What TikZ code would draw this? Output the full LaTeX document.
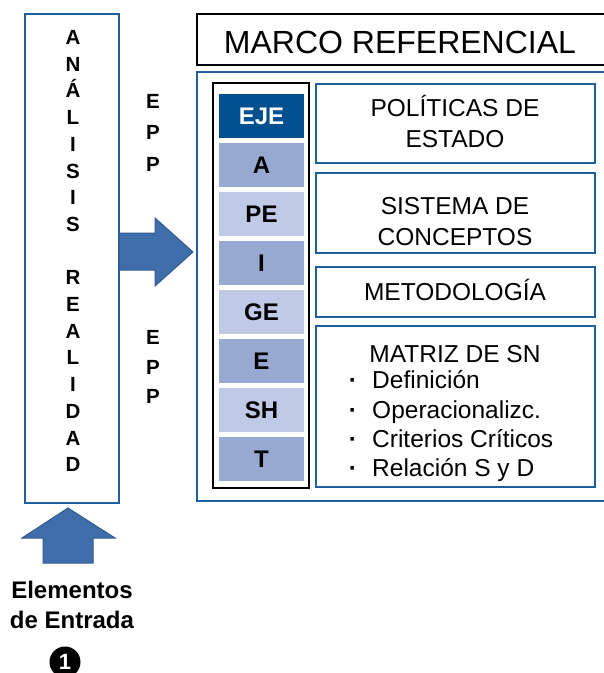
\documentclass[tikz,border=0pt]{standalone}
\usepackage{fontspec}
\setmainfont{Liberation Sans}
\definecolor{azul}{HTML}{1F5F9E}
\definecolor{ejeazul}{HTML}{00508F}
\definecolor{medio}{HTML}{97A9D1}
\definecolor{claro}{HTML}{C0CAE6}
\definecolor{flecha}{HTML}{3F6EAA}
\definecolor{borde}{HTML}{2E5C92}
\begin{document}
\begin{tikzpicture}[x=1pt, y=-1pt,
	letra/.style={font=\fontsize{20.5}{24}\selectfont\bfseries, anchor=base, inner sep=0pt},
	celda/.style={minimum width=85pt, minimum height=44.5pt, inner sep=0pt, font=\fontsize{24}{28}\selectfont\bfseries},
	caja/.style={draw=azul, line width=2.2pt, minimum width=279pt, inner sep=0pt},
	texto/.style={font=\fontsize{24.5}{31}\selectfont, anchor=base, align=center, inner sep=0pt},
	renglon/.style={font=\fontsize{24.5}{29}\selectfont, anchor=base west, inner sep=0pt},
	punto/.style={font=\fontsize{24.5}{29}\selectfont\bfseries, anchor=base, inner sep=0pt}]
		\useasboundingbox (0, 0) rectangle (604, 673);
		\clip (0, 0) rectangle (604, 673);

		% columna izquierda
		\node[draw=azul, line width=2pt, minimum width=94pt, minimum height=489pt, inner sep=0pt] (analisis) at (72, 258.5) {};
		\foreach \l [count=\i from 0] in {A, N, Á, L, I, S, I, S}
		\node[letra] (v\i) at (73, 44.5+26.7*\i) {\l};
		\foreach \l [count=\i from 9] in {R, E, A, L, I, D, A, D}
		\node[letra] (w\i) at (73, 44.5+26.7*\i) {\l};

		\foreach \l/\y [count=\i] in {E/108, P/139, P/171}
		\node[letra] (epa\i) at (153, \y) {\l};
		\foreach \l/\y [count=\i] in {E/344, P/374, P/403}
		\node[letra] (epb\i) at (153, \y) {\l};

		% flechas
		\filldraw[fill=flecha, draw=borde, line width=1pt] (119, 233) -- (155, 233) -- (155, 218) -- (193, 252) -- (155, 286) -- (155, 270) -- (119, 270) -- cycle;
		\filldraw[fill=flecha, draw=borde, line width=1pt] (43, 563) -- (43, 538) -- (22, 538) -- (68, 508) -- (115, 538) -- (93, 538) -- (93, 563) -- cycle;

		\node[font=\fontsize{24}{30}\selectfont\bfseries, anchor=base, align=center, inner sep=0pt] (entrada) at (72, 628) {Elementos\\de Entrada};
		\node[circle, fill=black, minimum size=31pt, inner sep=0pt, text=white, font=\fontsize{22}{22}\selectfont\bfseries] (uno) at (65, 662) {1};

		% marco referencial
		\draw[line width=2.5pt] (197, 14) rectangle (625, 65);
		\node[font=\fontsize{32}{36}\selectfont, anchor=base, inner sep=0pt] (marco) at (400, 53) {MARCO REFERENCIAL};
		\draw[azul, line width=2pt] (197, 72) rectangle (625, 501);

		\node[draw, line width=2.5pt, minimum width=96pt, minimum height=405pt, inner sep=0pt] (ejes) at (261, 285.5) {};
		\foreach \t/\c/\f [count=\i from 0] in {EJE/ejeazul/white, A/medio/black, PE/claro/black, I/medio/black, GE/claro/black, E/medio/black, SH/claro/black, T/medio/black}
		\node[celda, fill=\c, text=\f] (c\i) at (261.5, 116+49*\i) {\t};

		\node[caja, minimum height=79pt] (politicas) at (455.5, 123.5) {};
		\node[caja, minimum height=80pt] (sistema) at (455.5, 213) {};
		\node[caja, minimum height=50pt] (metodo) at (455.5, 292) {};
		\node[caja, minimum height=161pt] (matriz) at (455.5, 406.5) {};

		\node[texto] (t1) at (455, 147) {POLÍTICAS DE\\ESTADO};
		\node[texto] (t2) at (455, 245) {SISTEMA DE\\CONCEPTOS};
		\node[texto] (t3) at (455, 300) {METODOLOGÍA};
		\node[texto] (t4) at (455, 362) {MATRIZ DE SN};
		\foreach \t/\y [count=\i] in {Definición/388, Operacionalizc./418, Criterios Críticos/447, Relación S y D/476}
		{
		\node[punto] (p\i) at (353, \y) {·};
		\node[renglon] (r\i) at (372, \y) {\t};
		}

	\end{tikzpicture}
\end{document}
